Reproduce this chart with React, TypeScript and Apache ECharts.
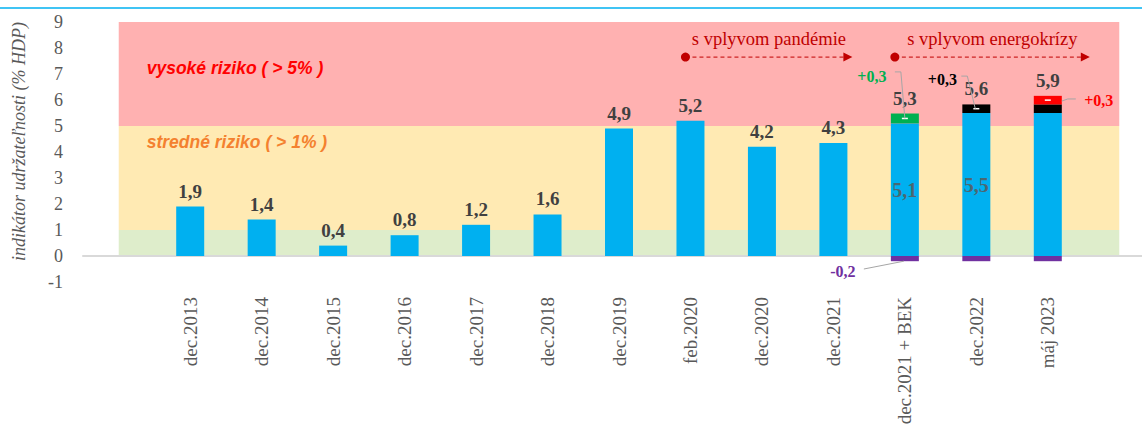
import React, { useEffect, useRef } from "react";
import * as echarts from "echarts";

const categories = [
  "dec.2013", "dec.2014", "dec.2015", "dec.2016", "dec.2017", "dec.2018",
  "dec.2019", "feb.2020", "dec.2020", "dec.2021", "dec.2021 + BEK", "dec.2022", "máj 2023",
];
const baseValues = [1.9, 1.4, 0.4, 0.8, 1.2, 1.6, 4.9, 5.2, 4.2, 4.35, 5.1, 5.5, 5.5];
const pandemicAdd = [null, null, null, null, null, null, null, null, null, null, 0.38, null, null];
const energyAdd = [null, null, null, null, null, null, null, null, null, null, null, 0.33, 0.33];
const energyAdd2 = [null, null, null, null, null, null, null, null, null, null, null, null, 0.33];
const bekAdj = [null, null, null, null, null, null, null, null, null, null, -0.2, -0.2, -0.2];
const valueLabels = ["1,9", "1,4", "0,4", "0,8", "1,2", "1,6", "4,9", "5,2", "4,2", "4,3", "5,3", "5,6", "5,9"];
const innerLabels = ["", "", "", "", "", "", "", "", "", "", "5,1", "5,5", ""];
const bands = [
  { from: 5, to: 9, color: "#FFB1B1" },
  { from: 1, to: 5, color: "#FFEAB3" },
  { from: 0, to: 1, color: "#DEEDCB" },
];
const yTicks = { min: -1, max: 9, interval: 1 };

const SERIF = "'Liberation Serif', serif";
const SANS = "'Liberation Sans', sans-serif";

const pad = (arr: any[]) => [null, ...arr, null];

export default function App() {
  const ref = useRef<HTMLDivElement>(null);
  useEffect(() => {
    if (!ref.current) return;
    const chart = echarts.init(ref.current, null, { renderer: "svg" });
    const xData = ["", ...categories, " "];
    const lastIdx = xData.length - 1;

    const baseData = pad(
      baseValues.map((v, i) => {
        if (i < 10) {
          return {
            value: v,
            label: {
              show: true, position: "top", distance: 6, formatter: valueLabels[i],
              fontFamily: SERIF, fontWeight: "bold", fontSize: 19, color: "#404040",
            },
          };
        }
        if (innerLabels[i]) {
          return {
            value: v,
            label: {
              show: true, position: "inside", formatter: innerLabels[i],
              fontFamily: SERIF, fontWeight: "bold", fontSize: 20, color: "rgba(90,90,90,0.85)",
            },
          };
        }
        return v;
      })
    );
    const topLabel = (txt: string) => ({
      show: true, position: "top", distance: 6, formatter: txt,
      fontFamily: SERIF, fontWeight: "bold", fontSize: 19, color: "#404040",
    });
    const greenData = pad(pandemicAdd.map((v, i) => (v == null ? null : { value: v, label: topLabel(valueLabels[i]) })));
    const blackData = pad(energyAdd.map((v, i) => (v == null ? null : (energyAdd2[i] == null ? { value: v, label: topLabel(valueLabels[i]) } : v))));
    const redData = pad(energyAdd2.map((v, i) => (v == null ? null : { value: v, label: topLabel(valueLabels[i]) })));

    const option: any = {
      animation: false,
      grid: { left: 83, top: 22, height: 260, width: 1072, outerBoundsMode: "none", containLabel: false },
      xAxis: {
        type: "category",
        data: xData,
        axisLine: { show: true, onZero: true, lineStyle: { color: "#D9D9D9", width: 2 } },
        axisTick: { show: false },
        axisLabel: { rotate: 90, margin: 15, fontFamily: SERIF, fontSize: 19, color: "#595959", interval: 0 },
        splitLine: { show: false },
      },
      yAxis: {
        type: "value",
        min: yTicks.min, max: yTicks.max, interval: yTicks.interval,
        axisLine: { show: false }, axisTick: { show: false }, splitLine: { show: false },
        axisLabel: { fontFamily: SERIF, fontSize: 18, color: "#595959", margin: 20 },
      },
      series: [
        { type: "bar", name: "base", stack: "s", barWidth: 28, z: 2, itemStyle: { color: "#00B0F0" }, data: baseData },
        { type: "bar", name: "pandemia", stack: "s", barWidth: 28, z: 2, itemStyle: { color: "#00B050" }, data: greenData },
        { type: "bar", name: "energo", stack: "s", barWidth: 28, z: 2, itemStyle: { color: "#000000" }, data: blackData },
        { type: "bar", name: "energo2", stack: "s", barWidth: 28, z: 2, itemStyle: { color: "#FF0000" }, data: redData },
        { type: "bar", name: "bek", stack: "s", barWidth: 28, z: 2, itemStyle: { color: "#7030A0" }, data: pad(bekAdj) },
      ],
    };
    chart.setOption(option);

    const pxRaw = (i: number, v: number) => chart.convertToPixel({ gridIndex: 0 }, [i, v]) as number[];
    const px = (i: number, v: number) => pxRaw(i + 1, v);
    const cx = (i: number) => px(i, 0)[0];
    const py = (v: number) => px(0, v)[1];
    const g: any[] = [];
    // risk bands, from centre of the first padding category to centre of the last one
    const bandLeft = pxRaw(0, 0)[0];
    const bandRight = pxRaw(lastIdx, 0)[0];
    bands.forEach((b) => {
      const yTop = py(b.to), yBot = py(b.from);
      g.push({ type: "rect", z: -10, shape: { x: bandLeft, y: yTop, width: bandRight - bandLeft, height: yBot - yTop }, style: { fill: b.color } });
    });
    g.push({ type: "line", shape: { x1: 0, y1: 8, x2: 1142, y2: 8 }, style: { stroke: "#00B0F0", lineWidth: 1.5 } });
    g.push({
      type: "text", x: 19, y: py(4.4), rotation: Math.PI / 2,
      style: { text: "indikátor udržateľnosti (% HDP)", font: `italic 18px ${SERIF}`, fill: "#595959", align: "center", verticalAlign: "middle" },
    });
    g.push({ type: "text", x: bandLeft + 28, y: py(7.25), style: { text: "vysoké riziko ( > 5% )", font: `italic bold 17.5px ${SANS}`, fill: "#FF0000", verticalAlign: "middle" } });
    g.push({ type: "text", x: bandLeft + 28, y: py(4.4), style: { text: "stredné riziko ( > 1% )", font: `italic bold 17.5px ${SANS}`, fill: "#F4812F", verticalAlign: "middle" } });

    // arrows
    const arrow = (x1: number, x2: number, v: number, text: string) => {
      const y = py(v);
      g.push({ type: "line", shape: { x1, y1: y, x2: x2 - 8, y2: y }, style: { stroke: "#C00000", lineWidth: 1, lineDash: [4, 3] } });
      g.push({ type: "circle", shape: { cx: x1, cy: y, r: 4.5 }, style: { fill: "#C00000" } });
      g.push({ type: "polygon", shape: { points: [[x2 - 9, y - 4.5], [x2, y], [x2 - 9, y + 4.5]] }, style: { fill: "#C00000" } });
      g.push({ type: "text", x: (x1 + x2) / 2, y: py(8.35), style: { text, font: `18.5px ${SERIF}`, fill: "#C00000", align: "center", verticalAlign: "middle" } });
    };
    arrow(cx(7) - 5, cx(9) + 19, 7.65, "s vplyvom pandémie");
    arrow(cx(10) - 10, cx(12) + 42, 7.65, "s vplyvom energokrízy");

    // white dashes inside top segments
    const dash = (i: number, v: number) => {
      const c = cx(i), y = py(v);
      g.push({ type: "rect", shape: { x: c - 3, y: y - 0.75, width: 6, height: 1.5 }, style: { fill: "#FFFFFF" }, z: 10 });
    };
    dash(10, baseValues[10] + (pandemicAdd[10] as number) / 2);
    dash(11, baseValues[11] + (energyAdd[11] as number) / 2);
    dash(12, baseValues[12] + (energyAdd[12] as number) + (energyAdd2[12] as number) / 2);

    // callouts
    const callout = (text: string, color: string, tx: number, ty: number, pts: number[][]) => {
      g.push({ type: "polyline", shape: { points: pts }, style: { stroke: "#A6A6A6", lineWidth: 1, fill: null }, z: 10 });
      g.push({ type: "text", x: tx, y: ty, style: { text, font: `bold 16px ${SERIF}`, fill: color, align: "center", verticalAlign: "middle" }, z: 10 });
    };
    const cB = cx(10), cD = cx(11), cM = cx(12);
    callout("+0,3", "#00B050", cB - 33, py(6.92), [[cB - 10, py(7.08)], [cB - 4, py(7.08)], [cB, py(5.29)]]);
    callout("+0,3", "#000000", cD - 34, py(6.8), [[cD - 15, py(6.92)], [cD - 9, py(6.92)], [cD - 1, py(5.66)]]);
    callout("+0,3", "#FF0000", cM + 51, py(6.0), [[cM + 14, py(5.96)], [cM + 20, py(6.04)], [cM + 28, py(6.04)]]);
    callout("-0,2", "#7030A0", cB - 62, py(-0.58), [[cB - 41, py(-0.5)], [cB - 1, py(-0.2)]]);

    chart.setOption({ graphic: g });
    return () => chart.dispose();
  }, []);
  return <div ref={ref} style={{ position: "fixed", left: 0, top: 0, width: 1142, height: 428, background: "#fff" }} />;
}
